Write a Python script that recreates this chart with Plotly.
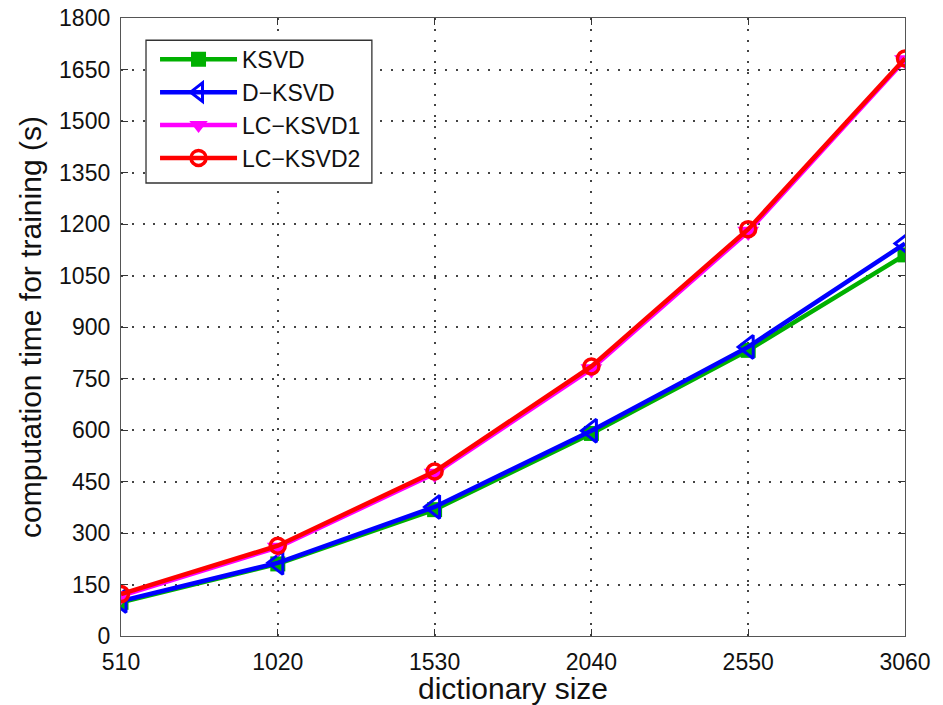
import plotly.graph_objects as go

dict_size = [510, 1020, 1530, 2040, 2550, 3060]
ksvd = [98, 210, 368, 590, 832, 1110]
d_ksvd = [102, 213, 376, 598, 842, 1143]
lc_ksvd1 = [117, 258, 473, 778, 1178, 1678]
lc_ksvd2 = [122, 263, 479, 785, 1185, 1682]

y_ticks = list(range(0, 1801, 150))

series = [
    ("KSVD", ksvd, "#00b000", dict(symbol="square", size=15, color="#00b000")),
    ("D\u2212KSVD", d_ksvd, "#0000ff",
     dict(symbol="triangle-left-open", size=20, color="#0000ff", line=dict(width=3, color="#0000ff"))),
    ("LC\u2212KSVD1", lc_ksvd1, "#ff00ff", dict(symbol="triangle-down", size=19, color="#ff00ff")),
    ("LC\u2212KSVD2", lc_ksvd2, "#ff0000",
     dict(symbol="circle-open", size=15, color="#ff0000", line=dict(width=3.5, color="#ff0000"))),
]

fig = go.Figure()
for i, (name, vals, col, mk) in enumerate(series):
    fig.add_trace(go.Scatter(
        x=dict_size, y=vals, name=name, mode="lines+markers",
        line=dict(color=col, width=4.5), marker=mk, legendgroup=f"g{i}",
    ))

axis_common = dict(
    showline=True, linecolor="#555555", linewidth=1.3, mirror="ticks",
    ticks="inside", ticklen=7, tickcolor="#333333", tickwidth=1,
    showgrid=True, gridcolor="#444444", griddash="2px,8.8px", gridwidth=1.5,
    zeroline=False, tickfont=dict(size=23, color="#111111"),
    automargin=False,
)

fig.update_xaxes(
    range=[510, 3060], tickvals=dict_size, ticklabelstandoff=5,
    title=dict(text="dictionary size", font=dict(size=30, color="#111111"), standoff=2),
    **axis_common,
)
fig.update_yaxes(
    range=[0, 1800], tickvals=y_ticks, ticklabelstandoff=5,
    title=dict(text="computation time for training (s)", font=dict(size=30, color="#111111"), standoff=8),
    **axis_common,
)

# framed white box behind the legend entries
fig.add_shape(
    type="rect", xref="paper", yref="paper",
    x0=0.0319, x1=0.320, y0=0.733, y1=0.964,
    fillcolor="white", line=dict(color="#333333", width=1.3), layer="above",
)

fig.update_layout(
    width=943, height=705,
    margin=dict(l=121, r=38, t=18, b=69),
    paper_bgcolor="white", plot_bgcolor="white",
    font=dict(family="Liberation Sans, Arial, sans-serif", color="#111111"),
    legend=dict(
        x=0.0434, y=0.968, xanchor="left", yanchor="top",
        bgcolor="rgba(0,0,0,0)", borderwidth=0,
        font=dict(size=23, color="#111111"), itemwidth=77,
        tracegroupgap=0,
    ),
)

fig.write_html("out.html")
